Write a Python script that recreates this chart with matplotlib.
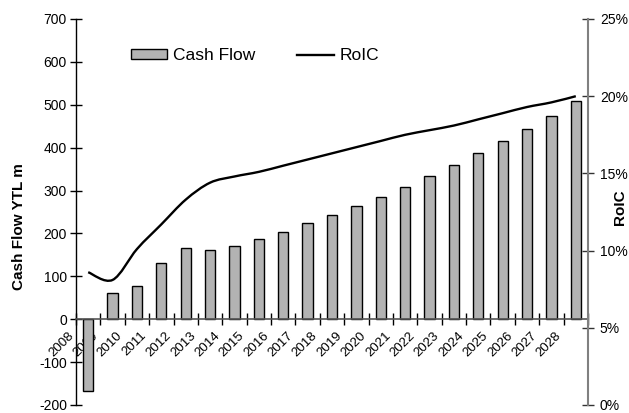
import matplotlib
matplotlib.use("Agg")
import matplotlib.pyplot as plt
from matplotlib.ticker import FixedLocator, PercentFormatter
from matplotlib.lines import Line2D
from matplotlib.patches import Patch, PathPatch
from matplotlib.path import Path

plt.rcParams['font.family'] = ['Liberation Sans', 'DejaVu Sans']
plt.rcParams['axes.unicode_minus'] = False

years = [str(y) for y in range(2008, 2029)]
cash_flow = [-167, 60, 77, 130, 166, 161, 170, 187, 204, 224, 243,
             263, 286, 308, 334, 359, 388, 415, 443, 475, 508]
roic = [8.6, 8.1, 10.1, 11.7, 13.3, 14.4, 14.8, 15.1, 15.5, 15.9, 16.3,
        16.7, 17.1, 17.5, 17.8, 18.1, 18.5, 18.9, 19.3, 19.6, 20.0]

W, H = 629, 413
fig = plt.figure(figsize=(W / 100, H / 100), dpi=100)
left, right, top, bottom = 76, 588, 19, 405
ax = fig.add_axes([left / W, 1 - bottom / H, (right - left) / W, (bottom - top) / H])

n = len(years)
x = list(range(n))
bar_color = '#b3b3b3'
ax.bar(x, cash_flow, width=0.42, color=bar_color, edgecolor='black',
       linewidth=1.0, zorder=2)

ax.set_xlim(-0.5, n - 0.5)
ax.set_ylim(-200, 700)
ax.set_yticks(range(-200, 701, 100))

# category axis sits on the zero line
for s in ('top', 'right'):
    ax.spines[s].set_visible(False)
ax.spines['bottom'].set_position(('data', 0))
ax.spines['bottom'].set_color('#555555')
ax.spines['bottom'].set_linewidth(1.2)
ax.spines['left'].set_color('black')
ax.spines['left'].set_linewidth(1.0)

bounds = [i - 0.5 for i in range(n + 1)]
ax.xaxis.set_major_locator(FixedLocator(bounds))
ax.set_xticklabels(years + [''], rotation=45, ha='right', va='top',
                   rotation_mode='default', fontsize=9.5)
ax.tick_params(axis='x', direction='inout', length=9, width=1.0,
               color='black', pad=3)
ax.tick_params(axis='y', direction='inout', length=9, width=1.0,
               color='black', labelsize=10, pad=2)

ax2 = ax.twinx()
ax2.set_ylim(0, 0.25)

# smoothed RoIC line: cubic Bezier segments through the yearly values
pts = [(xi, v / 100) for xi, v in zip(x, roic)]
verts = [pts[0]]
codes = [Path.MOVETO]
for i in range(len(pts) - 1):
    p0 = pts[max(i - 1, 0)]
    p1 = pts[i]
    p2 = pts[i + 1]
    p3 = pts[min(i + 2, len(pts) - 1)]
    c1 = (p1[0] + (p2[0] - p0[0]) / 6, p1[1] + (p2[1] - p0[1]) / 6)
    c2 = (p2[0] - (p3[0] - p1[0]) / 6, p2[1] - (p3[1] - p1[1]) / 6)
    verts += [c1, c2, p2]
    codes += [Path.CURVE4] * 3
ax2.add_patch(PathPatch(Path(verts, codes), facecolor='none',
                        edgecolor='black', linewidth=1.7, zorder=3))

ax2.set_yticks([0, 0.05, 0.10, 0.15, 0.20, 0.25])
ax2.yaxis.set_major_formatter(PercentFormatter(1.0, decimals=0))
for s in ('top', 'left', 'bottom'):
    ax2.spines[s].set_visible(False)
ax2.spines['right'].set_color('#808080')
ax2.spines['right'].set_linewidth(1.5)
ax2.tick_params(axis='y', direction='inout', length=9, width=1.0,
                color='#333333', labelsize=10, pad=4)

fig.text(19 / W, 1 - 227 / H, 'Cash Flow YTL m', rotation=90, ha='center',
         va='center', fontsize=11, fontweight='bold')
fig.text(620 / W, 1 - 207 / H, 'RoIC', rotation=90, ha='center',
         va='center', fontsize=11, fontweight='bold')

handles = [Patch(facecolor=bar_color, edgecolor='black', linewidth=1.0),
           Line2D([0], [0], color='black', linewidth=1.7)]
leg = ax2.legend(handles, ['Cash Flow', 'RoIC'], ncol=2, frameon=False,
                 loc='center left', bbox_to_anchor=(0.107, 0.905),
                 fontsize=12.5, handlelength=2.1, handleheight=0.5,
                 handletextpad=0.35, columnspacing=2.4,
                 borderaxespad=0, borderpad=0)

fig.savefig('out.png', dpi=100)
